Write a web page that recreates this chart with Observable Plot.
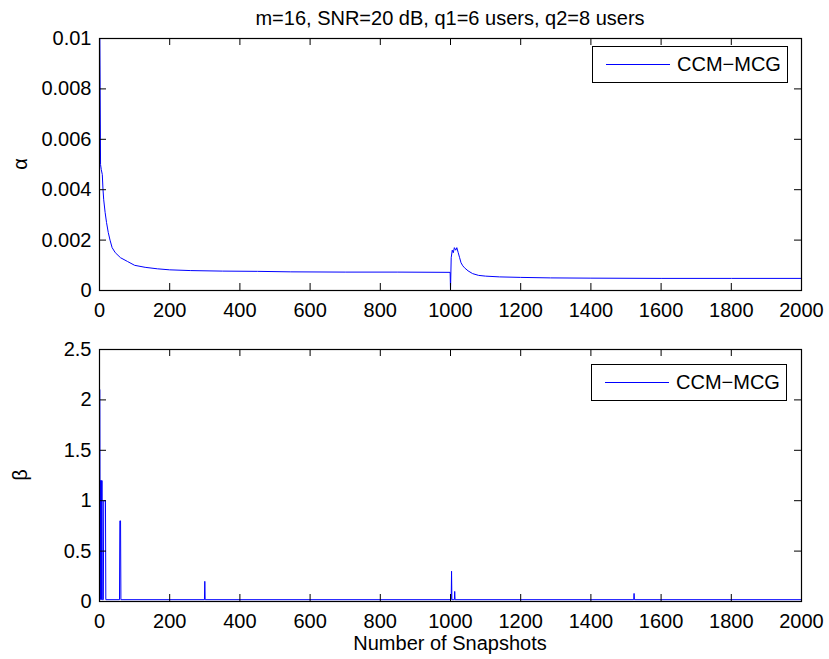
<!DOCTYPE html>
<html>
<head>
<meta charset="utf-8">
<script src="https://cdn.jsdelivr.net/npm/d3@7"></script>
<script src="https://cdn.jsdelivr.net/npm/@observablehq/plot@0.6"></script>
<style>
  body { margin: 0; background: #fff; }
  #fig { position: relative; width: 829px; height: 659px; background: #fff;
         font-family: "Liberation Sans", Arial, Helvetica, sans-serif; color: #000; }
  #fig svg { position: absolute; left: 0; overflow: visible; }
  .txt { position: absolute; font-size: 20px; line-height: 20px; white-space: nowrap; }
  .legend { position: absolute; box-sizing: border-box; border: 1px solid #000; background: #fff;
            width: 196px; height: 37px; }
  .legend .swatch { position: absolute; left: 13px; top: 17px; width: 64px; height: 0;
                    border-top: 1px solid #0000ff; }
  .legend .lab { position: absolute; left: 84px; top: 7px; font-size: 20px; line-height: 20px; }
</style>
</head>
<body>
<div id="fig"></div>
<script>
// α: adaptation factor per snapshot (CCM-MCG)
const alphaN = [1, 3, 5, 8, 10, 12, 16, 20, 25, 30, 36, 45, 60, 80, 100, 130, 165, 200, 260, 350,
  450, 545, 700, 850, 999, 1000, 1002, 1005, 1008, 1011, 1015, 1018, 1022, 1026, 1030, 1035,
  1040, 1050, 1063, 1080, 1100, 1140, 1200, 1285, 1400, 1600, 1800, 2000];
const alphaV = [0.0100, 0.0050, 0.0048, 0.0046, 0.0040, 0.0036, 0.0031, 0.0027, 0.0023, 0.0020,
  0.0017, 0.0015, 0.0013, 0.00115, 0.0010, 0.00092, 0.00086, 0.00082, 0.00079, 0.00077,
  0.00076, 0.00074, 0.00073, 0.00073, 0.00072, 0.0, 0.0013, 0.0016, 0.0015, 0.0017, 0.0016,
  0.0017, 0.0015, 0.0013, 0.0011, 0.00098, 0.0009, 0.00078, 0.00067, 0.0006, 0.00057,
  0.00054, 0.00052, 0.0005, 0.00049, 0.00048, 0.00048, 0.00048];

// β: step-size parameter per snapshot (CCM-MCG)
const betaN = [1, 2, 3, 4, 5, 6, 7, 8, 11, 12, 17, 18, 57, 58, 60, 61, 299, 300, 301,
  1002, 1003, 1004, 1011, 1012, 1013, 1522, 1523, 1524, 2000];
const betaV = [2.1, 0.02, 1.2, 0.02, 1.2, 0.02, 1.2, 0.018, 0.018, 1.0, 1.0, 0.018, 0.018, 0.8,
  0.8, 0.018, 0.018, 0.2, 0.018, 0.018, 0.3, 0.018, 0.018, 0.1, 0.018, 0.018, 0.08, 0.018, 0.018];

// axis ticks and their labels
const xTicks = [0, 200, 400, 600, 800, 1000, 1200, 1400, 1600, 1800, 2000];
const xTickLabels = ["0", "200", "400", "600", "800", "1000", "1200", "1400", "1600", "1800", "2000"];
const alphaTicks = [0, 0.002, 0.004, 0.006, 0.008, 0.01];
const alphaTickLabels = ["0", "0.002", "0.004", "0.006", "0.008", "0.01"];
const betaTicks = [0, 0.5, 1, 1.5, 2, 2.5];
const betaTickLabels = ["0", "0.5", "1", "1.5", "2", "2.5"];

const seriesName = "CCM\u2212MCG";
const titleText = "m=16, SNR=20 dB, q1=6 users, q2=8 users";
const xLabel = "Number of Snapshots";

const W = 829, ML = 99, MR = 28, PH = 252, PW = W - ML - MR, TICK = 7;
const fig = document.getElementById("fig");
const xLab = new Map(xTicks.map((t, i) => [t, xTickLabels[i]]));

function panel(n, v, yTicks, yLabels, yMax, marginTop, height) {
  const data = n.map((d, i) => ({n: d, v: v[i]}));
  const lab = new Map(yTicks.map((t, i) => [t, yLabels[i]]));
  return Plot.plot({
    width: W, height, marginLeft: ML, marginRight: MR, marginTop,
    marginBottom: height - marginTop - PH,
    style: {fontFamily: "'Liberation Sans', Arial, sans-serif", fontSize: "20px", background: "white", color: "black"},
    x: {domain: [0, 2000]},
    y: {domain: [0, yMax]},
    marks: [
      Plot.line(data, {x: "n", y: "v", stroke: "#0000ff", strokeWidth: 1}),
      // inward tick marks on all four sides
      Plot.tickX(xTicks, {x: d => d, insetTop: PH - TICK, stroke: "black"}),
      Plot.tickX(xTicks, {x: d => d, insetBottom: PH - TICK, stroke: "black"}),
      Plot.tickY(yTicks, {y: d => d, insetRight: PW - TICK, stroke: "black"}),
      Plot.tickY(yTicks, {y: d => d, insetLeft: PW - TICK, stroke: "black"}),
      Plot.frame({stroke: "black", strokeWidth: 1.2}),
      Plot.axisX(xTicks, {tickSize: 0, tickPadding: 12, label: null, fontSize: 20,
        tickFormat: d => xLab.get(d)}),
      Plot.axisY(yTicks, {tickSize: 0, tickPadding: 8, label: null, fontSize: 20,
        tickFormat: d => lab.get(d)})
    ]
  });
}

const alphaChart = panel(alphaN, alphaV, alphaTicks, alphaTickLabels, 0.01, 38, 320);
alphaChart.style.top = "0px";
fig.appendChild(alphaChart);

const betaChart = panel(betaN, betaV, betaTicks, betaTickLabels, 2.5, 29, 339);
betaChart.style.top = "320px";
fig.appendChild(betaChart);

function addText(text, css) {
  const d = document.createElement("div");
  d.className = "txt";
  d.textContent = text;
  Object.assign(d.style, css);
  fig.appendChild(d);
  return d;
}

addText(titleText, {left: ML + "px", width: PW + "px", textAlign: "center", top: "8px"});
addText(xLabel, {left: ML + "px", width: PW + "px", textAlign: "center", top: "633px"});
addText("\u03b1", {left: "0px", width: "40px", textAlign: "center", top: "154px", transform: "rotate(-90deg)"});
addText("\u03b2", {left: "0px", width: "40px", textAlign: "center", top: "465px", transform: "rotate(-90deg)"});

function addLegend(left, topPx) {
  const lg = document.createElement("div");
  lg.className = "legend";
  lg.style.left = left + "px";
  lg.style.top = topPx + "px";
  const sw = document.createElement("div");
  sw.className = "swatch";
  const lb = document.createElement("div");
  lb.className = "lab";
  lb.textContent = seriesName;
  lg.appendChild(sw);
  lg.appendChild(lb);
  fig.appendChild(lg);
}
addLegend(592, 46);
addLegend(591, 364);
</script>
</body>
</html>
